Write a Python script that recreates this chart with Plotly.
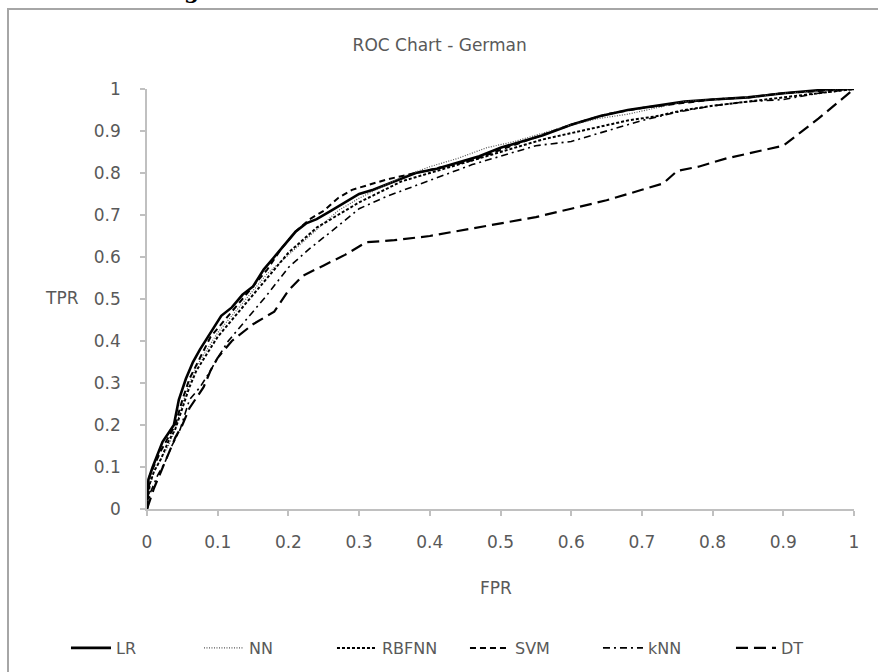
import plotly.graph_objects as go

# ---------------- data ----------------
lr_x = [0, 0.002, 0.008, 0.015, 0.022, 0.03, 0.038, 0.045, 0.055, 0.065, 0.075, 0.09, 0.105, 0.12, 0.135,
        0.15, 0.165, 0.18, 0.195, 0.21, 0.225, 0.24, 0.26, 0.28, 0.3, 0.32, 0.35, 0.38, 0.41, 0.44, 0.47,
        0.5, 0.53, 0.56, 0.6, 0.64, 0.68, 0.72, 0.76, 0.8, 0.85, 0.9, 0.94, 0.97, 1.0]
lr_y = [0, 0.07, 0.1, 0.13, 0.16, 0.18, 0.2, 0.26, 0.31, 0.35, 0.38, 0.42, 0.46, 0.48, 0.51,
        0.53, 0.57, 0.6, 0.63, 0.66, 0.68, 0.69, 0.71, 0.73, 0.75, 0.76, 0.78, 0.8, 0.81, 0.825, 0.84,
        0.86, 0.875, 0.89, 0.915, 0.935, 0.95, 0.96, 0.97, 0.975, 0.98, 0.99, 0.995, 1.0, 1.0]

nn_x = [0, 0.003, 0.01, 0.02, 0.03, 0.04, 0.05, 0.06, 0.07, 0.085, 0.1, 0.115, 0.13, 0.15, 0.17, 0.19,
        0.21, 0.23, 0.25, 0.27, 0.3, 0.33, 0.36, 0.4, 0.44, 0.48, 0.52, 0.56, 0.6, 0.64, 0.68, 0.72,
        0.76, 0.8, 0.85, 0.9, 0.95, 1.0]
nn_y = [0, 0.05, 0.09, 0.12, 0.15, 0.19, 0.25, 0.3, 0.34, 0.38, 0.42, 0.45, 0.48, 0.52, 0.56, 0.59,
        0.62, 0.65, 0.68, 0.71, 0.74, 0.765, 0.79, 0.815, 0.835, 0.86, 0.875, 0.895, 0.915, 0.93, 0.94, 0.955,
        0.97, 0.975, 0.98, 0.99, 0.995, 1.0]

rbf_x = [0, 0.004, 0.01, 0.02, 0.03, 0.04, 0.05, 0.06, 0.07, 0.085, 0.1, 0.12, 0.14, 0.16, 0.18, 0.2,
         0.22, 0.24, 0.27, 0.3, 0.33, 0.36, 0.4, 0.44, 0.48, 0.52, 0.56, 0.6, 0.64, 0.68, 0.72, 0.76,
         0.8, 0.85, 0.9, 0.95, 1.0]
rbf_y = [0, 0.06, 0.09, 0.12, 0.16, 0.19, 0.24, 0.29, 0.33, 0.37, 0.41, 0.45, 0.49, 0.53, 0.57, 0.61,
         0.64, 0.67, 0.7, 0.73, 0.755, 0.78, 0.8, 0.82, 0.84, 0.86, 0.88, 0.895, 0.91, 0.925, 0.935, 0.95,
         0.96, 0.97, 0.98, 0.99, 1.0]

svm_x = [0, 0.004, 0.012, 0.02, 0.03, 0.04, 0.05, 0.06, 0.075, 0.09, 0.11, 0.13, 0.15, 0.17, 0.19, 0.21,
         0.23, 0.25, 0.27, 0.29, 0.31, 0.34, 0.38, 0.42, 0.46, 0.5, 0.55, 0.6, 0.65, 0.7, 0.75, 0.8,
         0.85, 0.9, 0.95, 1.0]
svm_y = [0, 0.08, 0.11, 0.14, 0.17, 0.2, 0.26, 0.31, 0.36, 0.41, 0.45, 0.49, 0.53, 0.57, 0.62, 0.66,
         0.69, 0.71, 0.74, 0.76, 0.77, 0.785, 0.8, 0.815, 0.83, 0.855, 0.885, 0.915, 0.94, 0.955, 0.965, 0.975,
         0.98, 0.99, 0.995, 1.0]

knn_x = [0, 0.005, 0.015, 0.025, 0.035, 0.047, 0.06, 0.075, 0.09, 0.1, 0.115, 0.13, 0.15, 0.17, 0.2,
         0.23, 0.26, 0.3, 0.34, 0.38, 0.42, 0.46, 0.5, 0.55, 0.6, 0.65, 0.7, 0.75, 0.8, 0.85, 0.9,
         0.95, 1.0]
knn_y = [0, 0.04, 0.08, 0.11, 0.15, 0.19, 0.26, 0.29, 0.33, 0.36, 0.4, 0.43, 0.47, 0.51, 0.575,
         0.62, 0.66, 0.715, 0.745, 0.77, 0.795, 0.82, 0.84, 0.865, 0.875, 0.9, 0.925, 0.945, 0.96, 0.97, 0.975,
         0.99, 1.0]

dt_x = [0, 0.01, 0.02, 0.03, 0.04, 0.05, 0.06, 0.08, 0.09, 0.1, 0.12, 0.15, 0.18, 0.2, 0.22, 0.25,
        0.28, 0.31, 0.35, 0.4, 0.45, 0.5, 0.55, 0.6, 0.65, 0.7, 0.73, 0.75, 0.78, 0.82, 0.86, 0.9,
        0.95, 1.0]
dt_y = [0, 0.05, 0.09, 0.13, 0.17, 0.2, 0.24, 0.29, 0.33, 0.36, 0.4, 0.44, 0.47, 0.52, 0.555, 0.58,
        0.605, 0.635, 0.64, 0.65, 0.665, 0.68, 0.695, 0.715, 0.735, 0.76, 0.775, 0.805, 0.815, 0.835, 0.85, 0.865,
        0.93, 1.0]

tick_vals = [0, 0.1, 0.2, 0.3, 0.4, 0.5, 0.6, 0.7, 0.8, 0.9, 1.0]
tick_text = ["0", "0.1", "0.2", "0.3", "0.4", "0.5", "0.6", "0.7", "0.8", "0.9", "1"]

# ---------------- figure ----------------
FONT = "DejaVu Sans"
TXT = "#595959"

series = [
    ("LR", lr_x, lr_y, dict(color="black", width=2.6, dash="solid")),
    ("NN", nn_x, nn_y, dict(color="#555555", width=1.2, dash="1px,1.5px")),
    ("RBFNN", rbf_x, rbf_y, dict(color="black", width=2, dash="3px,2px")),
    ("SVM", svm_x, svm_y, dict(color="black", width=2, dash="6px,4px")),
    ("kNN", knn_x, knn_y, dict(color="black", width=1.6, dash="7px,4px,2px,4px")),
    ("DT", dt_x, dt_y, dict(color="black", width=2.2, dash="12px,6px")),
]

fig = go.Figure()
for name, xs, ys, ln in series:
    fig.add_trace(go.Scatter(x=xs, y=ys, mode="lines", name=name, line=ln))

axis_common = dict(
    range=[0, 1], tickvals=tick_vals, ticktext=tick_text,
    showgrid=False, zeroline=False, showline=True, linecolor="#c0c0c0", linewidth=1.5,
    ticks="outside", ticklen=5, tickcolor="#c0c0c0", tickwidth=1.5,
    tickfont=dict(family=FONT, size=17, color=TXT),
)
fig.update_xaxes(**axis_common, ticklabelstandoff=12)
fig.update_yaxes(**axis_common, ticklabelstandoff=16)

fig.update_layout(
    width=878, height=672,
    margin=dict(l=147, r=24, t=89, b=163, autoexpand=False),
    paper_bgcolor="white", plot_bgcolor="white",
    showlegend=True,
    title=dict(text="ROC Chart - German", x=0.414, xref="paper", xanchor="center",
               y=1 - 45 / 672, yref="container", yanchor="middle",
               font=dict(family=FONT, size=17, color=TXT)),
    legend=dict(orientation="h", x=-0.1146, xanchor="left", y=-0.331, yanchor="middle",
                font=dict(family=FONT, size=16, color=TXT), itemwidth=40,
                entrywidth=78, entrywidthmode="pixels",
                traceorder="normal", bgcolor="rgba(0,0,0,0)"),
    annotations=[
        dict(text="TPR", xref="paper", yref="paper", x=-0.120, y=0.502, showarrow=False,
             xanchor="center", yanchor="middle", font=dict(family=FONT, size=17, color=TXT)),
        dict(text="FPR", xref="paper", yref="paper", x=0.4936, y=-0.187, showarrow=False,
             xanchor="center", yanchor="middle", font=dict(family=FONT, size=17, color=TXT)),
        dict(text="<b>g</b>", xref="paper", yref="paper", x=0.0636, y=1.199, showarrow=False,
             xanchor="center", yanchor="bottom", font=dict(family="DejaVu Serif", size=22, color="black")),
    ],
    shapes=[
        dict(type="rect", xref="paper", yref="paper", x0=-0.1966, x1=1.2, y0=-0.5, y1=1.1905,
             line=dict(color="#a6a6a6", width=2), fillcolor="rgba(0,0,0,0)", layer="below"),
    ],
)

fig.write_html("out.html")
